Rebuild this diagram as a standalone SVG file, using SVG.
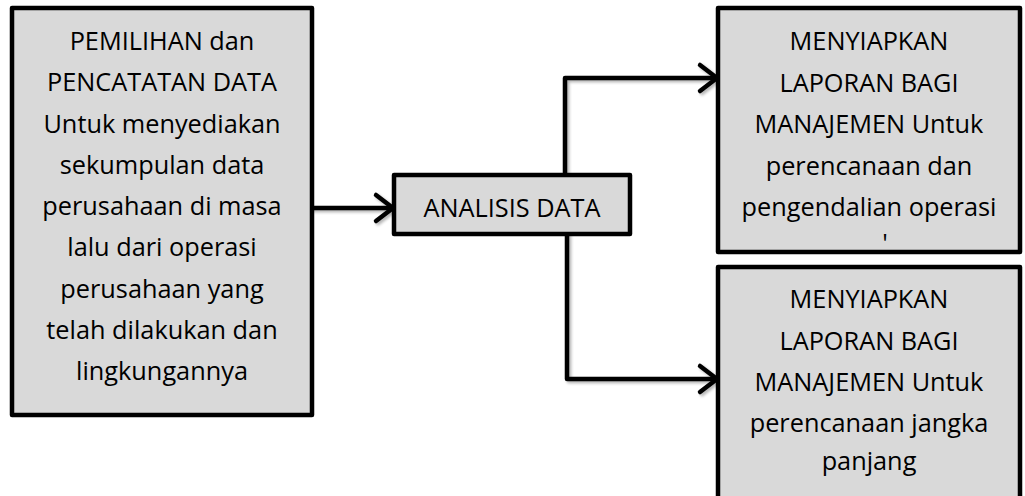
<svg xmlns="http://www.w3.org/2000/svg" width="1025" height="496" viewBox="0 0 1025 496">
<defs>
<style>
.box{fill:#d9d9d9;stroke:#000;stroke-width:4.5;stroke-linejoin:round}
.t{font-family:"Open Sans","Liberation Sans",sans-serif;font-size:25.3px;fill:#000;text-anchor:middle}
.c{fill:none;stroke:#000;stroke-width:4.5;stroke-linejoin:round;stroke-linecap:round}
</style>
<filter id="sh" x="-10%" y="-10%" width="130%" height="130%"><feGaussianBlur in="SourceAlpha" stdDeviation="1.5"/><feOffset dx="2" dy="2"/><feComponentTransfer><feFuncA type="linear" slope="0.3"/></feComponentTransfer><feMerge><feMergeNode/><feMergeNode in="SourceGraphic"/></feMerge></filter>
</defs>
<rect width="1025" height="496" fill="#fff"/>
<g id="connectors" filter="url(#sh)">
<path class="c" d="M312 208 H393"/>
<path class="c" d="M376 195 L393 208 L376 221"/>
<path class="c" d="M565 175 V78 H717"/>
<path class="c" d="M700 65 L717 78 L700 91"/>
<path class="c" d="M567 234 V379 H717"/>
<path class="c" d="M700 366 L717 379 L700 392"/>
</g>
<g id="n1">
<rect class="box" x="12" y="8" width="300" height="407"/>
<text class="t" x="162" y="50">PEMILIHAN dan</text>
<text class="t" x="162" y="91.3">PENCATATAN DATA</text>
<text class="t" x="162" y="132.5">Untuk menyediakan</text>
<text class="t" x="162" y="173.8">sekumpulan data</text>
<text class="t" x="162" y="215">perusahaan di masa</text>
<text class="t" x="162" y="256.3">lalu dari operasi</text>
<text class="t" x="162" y="297.5">perusahaan yang</text>
<text class="t" x="162" y="338.8">telah dilakukan dan</text>
<text class="t" x="162" y="380">lingkungannya</text>
</g>
<g id="n2">
<rect class="box" x="394" y="175" width="236" height="59"/>
<text class="t" x="512" y="217">ANALISIS DATA</text>
</g>
<g id="n3">
<rect class="box" x="718" y="8" width="302" height="244"/>
<text class="t" x="869" y="50">MENYIAPKAN</text>
<text class="t" x="869" y="91.5">LAPORAN BAGI</text>
<text class="t" x="869" y="133">MANAJEMEN Untuk</text>
<text class="t" x="869" y="174.5">perencanaan dan</text>
<text class="t" x="869" y="216">pengendalian operasi</text>
<text class="t" x="885" y="252">'</text>
</g>
<g id="n4">
<rect class="box" x="718" y="267" width="302" height="240"/>
<text class="t" x="869" y="308">MENYIAPKAN</text>
<text class="t" x="869" y="350">LAPORAN BAGI</text>
<text class="t" x="869" y="391">MANAJEMEN Untuk</text>
<text class="t" x="869" y="432">perencanaan jangka</text>
<text class="t" x="869" y="470">panjang</text>
</g>
</svg>
